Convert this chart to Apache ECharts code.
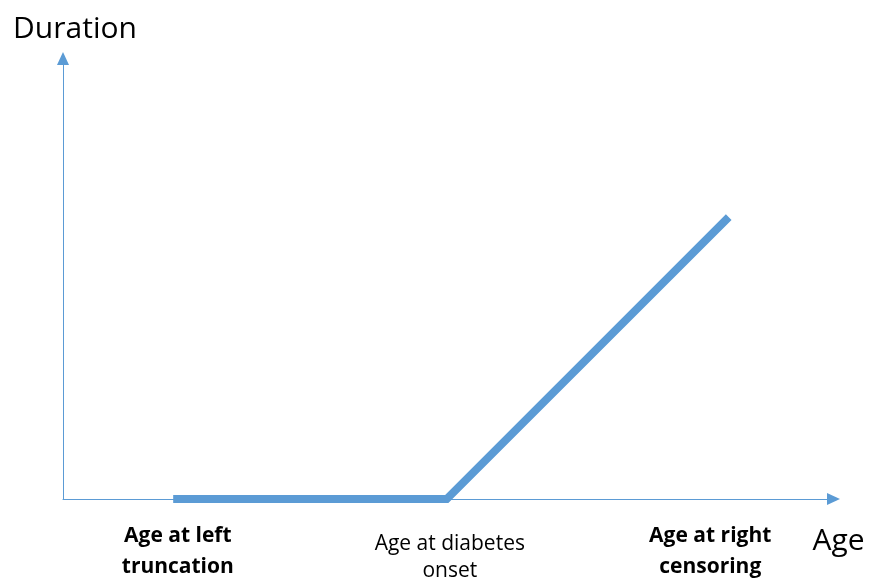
<!DOCTYPE html>
<html><head><meta charset="utf-8">
<script src="https://cdn.jsdelivr.net/npm/echarts@6/dist/echarts.min.js"></script>
<style>html,body{margin:0;padding:0;background:#fff}#c{width:874px;height:585px}</style>
</head><body><div id="c"></div>
<script>
// Data
const ages = [14.3, 49.8, 86.4];
const durations = [0, 0, 64];
const tickAges = [14.9, 50.2, 84.0];
const tickLabels = ['Age at left\ntruncation', 'Age at diabetes\nonset', 'Age at right\ncensoring'];
const tickBold = [true, false, true];
const xName = 'Age';
const yName = 'Duration';

const blue = '#5b9bd5';
const font = '"Open Sans", Lato, sans-serif';

const chart = echarts.init(document.getElementById('c'));
chart.setOption({
  animation: false,
  grid: { left: 63, right: 40.5, top: 58.5, bottom: 86, containLabel: false },
  xAxis: {
    type: 'value', min: 0, max: 100,
    name: xName, nameLocation: 'end', nameGap: -21,
    nameTextStyle: { fontFamily: font, fontSize: 30, color: '#000', align: 'left', verticalAlign: 'top', padding: [27, 0, 0, 0] },
    axisLine: { show: true, symbol: ['none', 'triangle'], symbolSize: [12, 13], lineStyle: { color: blue, width: 1 } },
    axisTick: { show: false },
    splitLine: { show: false },
    axisLabel: {
      customValues: tickAges,
      margin: 22,
      fontFamily: font,
      formatter: function (v) {
        const i = tickAges.indexOf(v);
        if (i < 0) return '';
        const s = tickBold[i] ? 'b' : 'n';
        const lines = tickLabels[i].split('\n').map(l => '{' + s + '|' + l + '}');
        if (!tickBold[i]) lines.unshift('{gap|}');
        return lines.join('\n');
      },
      rich: {
        b: { fontFamily: font, fontSize: 21, fontWeight: 'bold', color: '#000', lineHeight: 31 },
        n: { fontFamily: font, fontSize: 21, fontWeight: 'normal', color: '#000', lineHeight: 27 },
        gap: { fontSize: 1, lineHeight: 10 }
      }
    }
  },
  yAxis: {
    type: 'value', min: 0, max: 100,
    name: yName, nameLocation: 'end', nameGap: 14,
    nameTextStyle: { fontFamily: font, fontSize: 30, color: '#000', padding: [0, 0, 0, 24] },
    axisLine: { show: true, symbol: ['none', 'triangle'], symbolSize: [12, 13], lineStyle: { color: blue, width: 1 } },
    axisTick: { show: false },
    axisLabel: { show: false },
    splitLine: { show: false }
  },
  series: [{
    type: 'line',
    data: ages.map((a, i) => [a, durations[i]]),
    showSymbol: false,
    lineStyle: { color: blue, width: 8, cap: 'butt', join: 'miter' },
    z: 3
  }]
});
</script></body></html>
